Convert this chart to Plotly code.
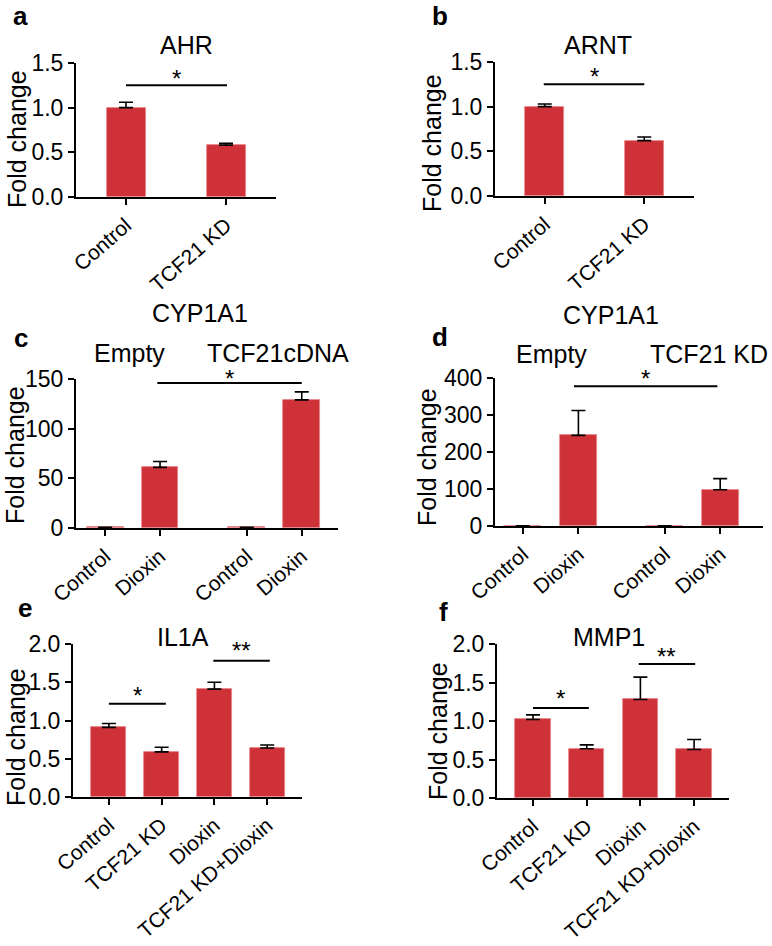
import plotly.graph_objects as go

# ---------------- data ----------------
a_labels = ["Control", "TCF21 KD"]
a_values = [1.00, 0.58]
a_errors = [0.06, 0.02]

b_labels = ["Control", "TCF21 KD"]
b_values = [1.00, 0.62]
b_errors = [0.03, 0.04]

c_labels = ["Control", "Dioxin", "Control", "Dioxin"]
c_values = [0.6, 61.0, 0.6, 129.0]
c_errors = [0.0, 6.0, 0.0, 8.0]

d_labels = ["Control", "Dioxin", "Control", "Dioxin"]
d_values = [0.8, 245.0, 0.8, 98.0]
d_errors = [0.0, 67.0, 0.0, 30.0]

e_labels = ["Control", "TCF21 KD", "Dioxin", "TCF21 KD+Dioxin"]
e_values = [0.91, 0.59, 1.41, 0.64]
e_errors = [0.05, 0.06, 0.09, 0.04]

f_labels = ["Control", "TCF21 KD", "Dioxin", "TCF21 KD+Dioxin"]
f_values = [1.02, 0.64, 1.28, 0.63]
f_errors = [0.06, 0.05, 0.29, 0.13]

# significance bars: (y level, label)
a_sig = [(1.25, "*")]
b_sig = [(1.25, "*")]
c_sig = [(146, "*")]
d_sig = [(378, "*")]
e_sig = [(1.22, "*"), (1.78, "**")]
f_sig = [(1.17, "*"), (1.74, "**")]

# ---------------- layout constants ----------------
W, H = 772, 946
BAR = "#CF3138"
FONT = "Liberation Sans, Arial, Helvetica, sans-serif"
YTICK_FS = 23
XTICK_FS = 21
AXT_FS = 25
TITLE_FS = 25

fig = go.Figure()


def px_x(x):
    return x / W


def px_y(y):
    return 1 - y / H


panels = [
    dict(n=1, labels=a_labels, vals=a_values, errs=a_errors, pos=[0, 1], width=0.39,
         xr=(-0.5, 1.5), xpx=(76, 276), ypx=(63, 197), yr=(0, 1.5), dt=0.5, fmt=".1f", sig=a_sig,
         sig_x=[(0, 1.01)], star_px=[7], yt=(17, 139)),
    dict(n=2, labels=b_labels, vals=b_values, errs=b_errors, pos=[0, 1], width=0.39,
         xr=(-0.5, 1.5), xpx=(495, 694), ypx=(62, 196), yr=(0, 1.5), dt=0.5, fmt=".1f", sig=b_sig,
         sig_x=[(-0.01, 1.0)], star_px=[8], yt=(432, 143)),
    dict(n=3, labels=c_labels, vals=c_values, errs=c_errors, pos=[0, 1, 2.58, 3.58], width=0.67,
         xr=(-0.53, 4.24), xpx=(76, 338), ypx=(379, 528), yr=(0, 150), dt=50, fmt="d", sig=c_sig,
         sig_x=[(0.95, 3.58)], star_px=[4], yt=(15, 455)),
    dict(n=4, labels=d_labels, vals=d_values, errs=d_errors, pos=[0, 1, 2.55, 3.55], width=0.67,
         xr=(-0.5, 4.32), xpx=(495, 763), ypx=(378, 526), yr=(0, 400), dt=100, fmt="d", sig=d_sig,
         sig_x=[(0.92, 3.5)], star_px=[8], yt=(427, 457)),
    dict(n=5, labels=e_labels, vals=e_values, errs=e_errors, pos=[0, 1, 2, 3], width=0.66,
         xr=(-0.68, 3.66), xpx=(73, 302), ypx=(644, 797), yr=(0, 2.0), dt=0.5, fmt=".1f", sig=e_sig,
         sig_x=[(0, 1.08), (1.98, 3.05)], star_px=[8, 10], yt=(16, 737)),
    dict(n=6, labels=f_labels, vals=f_values, errs=f_errors, pos=[0, 1, 2, 3], width=0.66,
         xr=(-0.67, 3.65), xpx=(497, 729), ypx=(644, 798), yr=(0, 2.0), dt=0.5, fmt=".1f", sig=f_sig,
         sig_x=[(0, 1.04), (1.97, 3.02)], star_px=[9, 8], yt=(438, 731)),
]

annotations = []
shapes = []

for p in panels:
    n = p["n"]
    xa = "x" if n == 1 else f"x{n}"
    ya = "y" if n == 1 else f"y{n}"
    fig.add_trace(go.Bar(
        x=p["pos"], y=p["vals"], width=p["width"],
        marker=dict(color=BAR, line=dict(color="#E7888C", width=0.8)),
        error_y=dict(type="data", symmetric=False, array=p["errs"],
                     arrayminus=[0] * len(p["errs"]), color="black", thickness=1.6, width=7),
        xaxis=xa, yaxis=ya, showlegend=False, hoverinfo="skip",
    ))
    xkey = "xaxis" if n == 1 else f"xaxis{n}"
    ykey = "yaxis" if n == 1 else f"yaxis{n}"
    common = dict(
        showline=True, linecolor="black", linewidth=2,
        ticks="outside", ticklen=6, tickwidth=2, tickcolor="black",
        showgrid=False, zeroline=False, automargin=False, fixedrange=True,
    )
    fig.layout[xkey] = dict(
        domain=[px_x(p["xpx"][0]), px_x(p["xpx"][1])],
        anchor=ya, range=list(p["xr"]), tickmode="array",
        tickvals=p["pos"], ticktext=p["labels"], tickangle=-41,
        tickfont=dict(family=FONT, size=XTICK_FS, color="black"), **common,
    )
    fig.layout[ykey] = dict(
        domain=[px_y(p["ypx"][1]), px_y(p["ypx"][0])],
        anchor=xa, range=list(p["yr"]), dtick=p["dt"], tickformat=p["fmt"],
        tickfont=dict(family=FONT, size=YTICK_FS, color="black"), **common,
    )
    annotations.append(dict(
        text="Fold change", textangle=-90, xref="paper", yref="paper",
        x=px_x(p["yt"][0]), y=px_y(p["yt"][1]), showarrow=False,
        xanchor="center", yanchor="middle",
        font=dict(family=FONT, size=AXT_FS, color="black"),
    ))
    # significance bars
    d0, d1 = px_y(p["ypx"][1]), px_y(p["ypx"][0])
    r0, r1 = p["yr"]
    for (lvl, lab), (sx0, sx1), sp in zip(p["sig"], p["sig_x"], p["star_px"]):
        shapes.append(dict(type="line", xref=xa, yref=ya, x0=sx0, x1=sx1, y0=lvl, y1=lvl,
                           line=dict(color="black", width=2)))
        yp = d0 + (lvl - r0) / (r1 - r0) * (d1 - d0)
        annotations.append(dict(
            text=lab, xref=xa, yref="paper", x=(sx0 + sx1) / 2, y=yp,
            yshift=sp, showarrow=False, xanchor="center", yanchor="middle",
            font=dict(family=FONT, size=24, color="black"),
        ))

# titles and panel letters (pixel positions)
texts = [
    ("<b>a</b>", 20, 16, 26, "center"), ("AHR", 186, 45, TITLE_FS, "center"),
    ("<b>b</b>", 440, 16, 26, "center"), ("ARNT", 598, 45, TITLE_FS, "center"),
    ("CYP1A1", 200, 313, TITLE_FS, "center"), ("<b>c</b>", 21, 338, 26, "center"),
    ("Empty", 129, 353, TITLE_FS, "center"), ("TCF21cDNA", 278, 353, TITLE_FS, "center"),
    ("CYP1A1", 611, 315, TITLE_FS, "center"), ("<b>d</b>", 440, 337, 26, "center"),
    ("Empty", 551, 354, TITLE_FS, "center"), ("TCF21 KD", 770, 354, TITLE_FS, "right"),
    ("<b>e</b>", 25, 608, 26, "center"), ("IL1A", 183, 637, TITLE_FS, "center"),
    ("<b>f</b>", 443, 612, 26, "center"), ("MMP1", 609, 637, TITLE_FS, "center"),
]
for t, x, y, fs, anc in texts:
    annotations.append(dict(
        text=t, xref="paper", yref="paper", x=px_x(x), y=px_y(y),
        showarrow=False, xanchor=anc, yanchor="middle",
        font=dict(family=FONT, size=fs, color="black"),
    ))

fig.update_layout(
    width=W, height=H, margin=dict(l=0, r=0, t=0, b=0),
    paper_bgcolor="white", plot_bgcolor="white",
    annotations=annotations, shapes=shapes, bargap=0,
)

fig.write_html(
    "out.html",
    config={"displayModeBar": False},
    post_script="document.body.style.margin='0';document.body.style.overflow='hidden';",
)
